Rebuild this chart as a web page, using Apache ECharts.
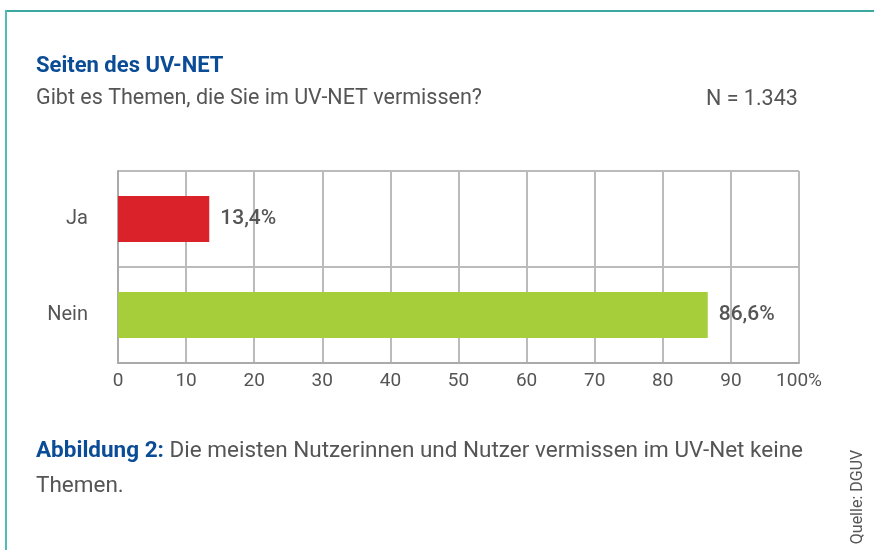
<!DOCTYPE html>
<html>
<head>
<meta charset="utf-8">
<style>
html, body { margin: 0; padding: 0; background: #fff; }
#chart { width: 874px; height: 550px; }
</style>
<script src="https://cdn.jsdelivr.net/npm/echarts@6/dist/echarts.min.js"></script>
</head>
<body>
<div id="chart"></div>
<script>
// data
var categories = ['Ja', 'Nein'];
var values = [13.4, 86.6];
var barColors = ['#d9222a', '#a6cd3a'];
var valueLabels = ['13,4%', '86,6%'];
var xTicks = [0, 10, 20, 30, 40, 50, 60, 70, 80, 90, 100];

var FONT = 'Roboto';
var GRAY = '#555';
var BLUE = '#0b4c96';

var chart = echarts.init(document.getElementById('chart'));

chart.setOption({
    animation: false,
    backgroundColor: '#fff',
    textStyle: { fontFamily: FONT },
    grid: { left: 118, right: 75, top: 171, bottom: 187 },
    xAxis: {
        type: 'value',
        min: xTicks[0],
        max: xTicks[xTicks.length - 1],
        interval: 10,
        axisLine: { show: true, lineStyle: { color: '#aaa', width: 2 } },
        axisTick: { show: false },
        splitLine: { show: true, lineStyle: { color: '#bbb', width: 2 } },
        axisLabel: {
            color: GRAY, fontSize: 19, fontFamily: FONT, margin: 9,
            formatter: function (v) { return v === 100 ? '100%' : String(v); }
        }
    },
    yAxis: {
        type: 'category',
        data: categories,
        inverse: true,
        axisLine: { show: true, lineStyle: { color: '#aaa', width: 2 } },
        axisTick: { show: false },
        splitLine: { show: true, lineStyle: { color: '#bbb', width: 2 } },
        axisLabel: { color: GRAY, fontSize: 20, fontFamily: FONT, margin: 30 }
    },
    series: [{
        type: 'bar',
        barWidth: 46,
        data: values.map(function (v, i) {
            return { value: v, itemStyle: { color: barColors[i] } };
        }),
        label: {
            show: true,
            position: 'right',
            distance: 11,
            color: GRAY,
            fontSize: 21,
            fontWeight: 500,
            fontFamily: FONT,
            formatter: function (p) { return valueLabels[p.dataIndex]; }
        }
    }],
    graphic: [
        // teal frame, top and left
        { type: 'line', shape: { x1: 5, y1: 11, x2: 874, y2: 11 }, style: { stroke: '#3aa89e', lineWidth: 2 } },
        { type: 'line', shape: { x1: 6, y1: 10, x2: 6, y2: 550 }, style: { stroke: '#4fbcbc', lineWidth: 2 } },
        { type: 'text', left: 36, top: 55, style: { text: 'Seiten des UV-NET', fill: BLUE, font: 'bold 22px ' + FONT } },
        { type: 'text', left: 36, top: 88, style: { text: 'Gibt es Themen, die Sie im UV-NET vermissen?', fill: GRAY, font: '21.5px ' + FONT } },
        { type: 'text', left: 706, top: 89, style: { text: 'N = 1.343', fill: GRAY, font: '21.5px ' + FONT } },
        {
            type: 'text', left: 36, top: 434,
            style: {
                text: '{b|Abbildung 2:} Die meisten Nutzerinnen und Nutzer vermissen im UV-Net keine\nThemen.',
                fill: GRAY, font: '22.5px ' + FONT, lineHeight: 35,
                rich: { b: { fill: BLUE, fontWeight: 'bold', fontSize: 22.5, fontFamily: FONT } }
            }
        },
        {
            type: 'text', x: 858, y: 497, rotation: Math.PI / 2,
            style: { text: 'Quelle: DGUV', fill: GRAY, font: '16px ' + FONT, align: 'center', verticalAlign: 'middle' }
        }
    ]
});
</script>
</body>
</html>
